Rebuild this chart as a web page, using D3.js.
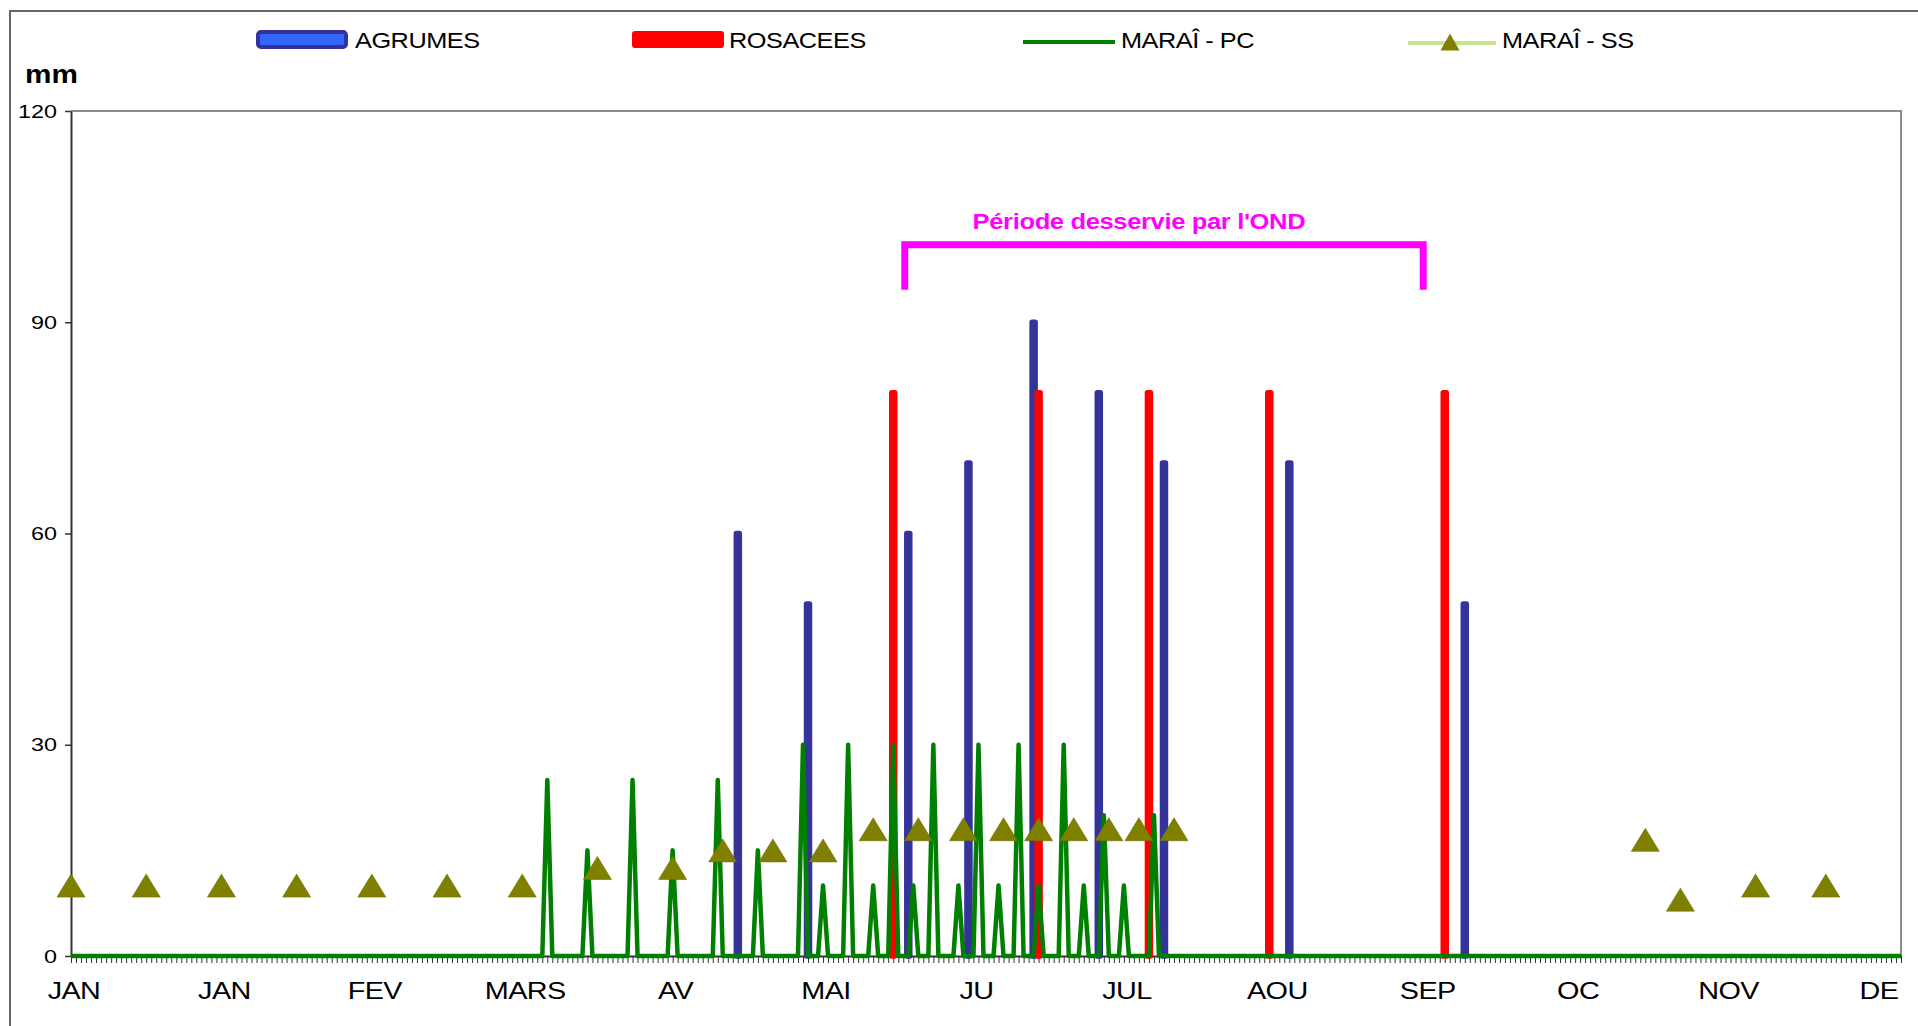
<!DOCTYPE html>
<html>
<head>
<meta charset="utf-8">
<script src="https://cdn.jsdelivr.net/npm/d3@7"></script>
<style>
body { margin: 0; background: #fff; }
svg { display: block; font-family: "Liberation Sans", Arial, sans-serif; }
</style>
</head>
<body>
<div id="chart"></div>
<script>
// DATA ------------------------------------------------------------
// x axis = day of the year (0..365), labels every 30 days
var monthLabels = ["JAN", "JAN", "FEV", "MARS", "AV", "MAI", "JU", "JUL", "AOU", "SEP", "OC", "NOV", "DE"];
var monthLabelDays = [0, 30, 60, 90, 120, 150, 180, 210, 240, 270, 300, 330, 360];
var yTicks = [0, 30, 60, 90, 120];

var agrumesDays = [133, 147, 167, 179, 192, 205, 218, 243, 278];
var agrumesValues = [60, 50, 60, 70, 90, 80, 70, 70, 50];

var rosaceesDays = [164, 193, 215, 239, 274];
var rosaceesValues = [80, 80, 80, 80, 80];

// MARAÎ - PC : zero every day except these
var pcDays = [95, 103, 112, 120, 129, 137, 146, 150, 155, 160, 164, 168, 172, 177, 181, 185, 189, 193, 198, 202, 206, 210, 216];
var pcValues = [25, 15, 25, 15, 25, 15, 30, 10, 30, 10, 30, 10, 30, 10, 30, 10, 30, 10, 30, 10, 20, 10, 20];

// MARAÎ - SS : markers only
var ssDays = [0, 15, 30, 45, 60, 75, 90, 105, 120, 130, 140, 150, 160, 169, 178, 186, 193, 200, 207, 213, 220, 314, 321, 336, 350];
var ssValues = [10, 10, 10, 10, 10, 10, 10, 12.5, 12.5, 15, 15, 15, 18, 18, 18, 18, 18, 18, 18, 18, 18, 16.5, 8, 10, 10];

var legendNames = ["AGRUMES", "ROSACEES", "MARAÎ - PC", "MARAÎ - SS"];
var ondLabel = "Période desservie par l'OND";
var ondStartDay = 166, ondEndDay = 270;

// SIZES / COLORS --------------------------------------------------
var width = 1918, height = 1026;
var plot = {left: 71, right: 1901, top: 111, bottom: 956};
var colors = {
	'agrumesFill': '#3366ff',
	'agrumesStroke': '#333399',
	'rosacees': '#ff0000',
	'pc': '#008000',
	'ssLine': '#c8e68c',
	'ss': '#808000',
	'ond': '#ff00ff'
};

var svg = d3.select("#chart")
	.append("svg")
	.attr("width", width)
	.attr("height", height);

var days = d3.range(366);
var x = d3.scalePoint().domain(days).range([plot.left, plot.right]);
var y = d3.scaleLinear().domain([0, 120]).range([plot.bottom, plot.top]);

// text that is a bit wider than plain Arial, like the original
function wideText(parent, tx, ty, str, sx) {
	return parent.append("g")
		.attr("transform", "translate(" + tx + "," + ty + ") scale(" + sx + ",1)")
		.append("text")
		.text(str);
}

// FRAMES ----------------------------------------------------------
svg.append("rect")
	.attr("x", 10).attr("y", 11)
	.attr("width", 1940).attr("height", 1040)
	.attr("fill", "none")
	.attr("stroke", "#666")
	.attr("stroke-width", 2);

svg.append("path")
	.attr("d", "M" + plot.left + "," + plot.top + "H" + plot.right + "V" + plot.bottom)
	.attr("fill", "none")
	.attr("stroke", "#8c8c8c")
	.attr("stroke-width", 2);

// AXES ------------------------------------------------------------
var yAxis = svg.append("g")
	.attr("transform", "translate(" + plot.left + ",0)")
	.call(d3.axisLeft(y).tickValues(yTicks).tickSize(6).tickSizeOuter(0).tickFormat(""));
yAxis.select(".domain").attr("stroke", "#333").attr("stroke-width", 2);
yAxis.selectAll(".tick line").attr("stroke", "#333").attr("stroke-width", 1.5);

yTicks.forEach(function(v) {
	wideText(svg, plot.left - 14, y(v) + 6.5, v, 1.3)
		.attr("text-anchor", "end")
		.attr("font-size", 18)
		.attr("fill", "#000");
});

var xAxis = svg.append("g")
	.attr("transform", "translate(0," + plot.bottom + ")")
	.call(d3.axisBottom(x).tickValues(days).tickSize(7).tickSizeOuter(0).tickFormat(""));
xAxis.select(".domain").attr("stroke", "#333").attr("stroke-width", 2);
xAxis.selectAll(".tick line").attr("stroke", "#333").attr("stroke-width", 1);

monthLabels.forEach(function(m, i) {
	wideText(svg, x(monthLabelDays[i]) + 3, 999, m, 1.2)
		.attr("text-anchor", "middle")
		.attr("font-size", 24)
		.attr("letter-spacing", -0.5)
		.attr("fill", "#000");
});

wideText(svg, 25, 83, "mm", 1.19)
	.attr("font-size", 25)
	.attr("font-weight", "bold")
	.attr("fill", "#000");

// BARS ------------------------------------------------------------
var agrumes = agrumesDays.map(function(d, i) { return {day: d, value: agrumesValues[i]}; });
var rosacees = rosaceesDays.map(function(d, i) { return {day: d, value: rosaceesValues[i]}; });

svg.selectAll(".agrumes")
	.data(agrumes)
	.enter()
	.append("rect")
	.attr("class", "agrumes")
	.attr("x", function(d) { return x(d.day) - 1.5; })
	.attr("y", function(d) { return y(d.value); })
	.attr("width", 3)
	.attr("height", function(d) { return plot.bottom - y(d.value); })
	.attr("fill", colors.agrumesFill)
	.attr("stroke", colors.agrumesStroke)
	.attr("stroke-width", 5.5)
	.attr("stroke-linejoin", "round");

svg.selectAll(".rosacees")
	.data(rosacees)
	.enter()
	.append("rect")
	.attr("class", "rosacees")
	.attr("x", function(d) { return x(d.day) - 1.5; })
	.attr("y", function(d) { return y(d.value); })
	.attr("width", 3)
	.attr("height", function(d) { return plot.bottom - y(d.value); })
	.attr("fill", colors.rosacees)
	.attr("stroke", colors.rosacees)
	.attr("stroke-width", 5.5)
	.attr("stroke-linejoin", "round");

// MARAÎ - PC line -------------------------------------------------
var pcSeries = days.map(function(d) {
	var j = pcDays.indexOf(d);
	return {day: d, value: j < 0 ? 0 : pcValues[j]};
});

var line = d3.line()
	.x(function(d) { return x(d.day); })
	.y(function(d) { return y(d.value); });

svg.append("path")
	.datum(pcSeries)
	.attr("d", line)
	.attr("fill", "none")
	.attr("stroke", colors.pc)
	.attr("stroke-width", 4.5)
	.attr("stroke-linejoin", "round");

// MARAÎ - SS markers ----------------------------------------------
function triangle(w, h) {
	return "M0," + (-h / 2) + "L" + (w / 2) + "," + (h / 2) + "L" + (-w / 2) + "," + (h / 2) + "Z";
}

svg.selectAll(".ss")
	.data(ssDays.map(function(d, i) { return {day: d, value: ssValues[i]}; }))
	.enter()
	.append("path")
	.attr("class", "ss")
	.attr("d", triangle(28, 23))
	.attr("transform", function(d) { return "translate(" + x(d.day) + "," + y(d.value) + ")"; })
	.attr("fill", colors.ss)
	.attr("stroke", "#6e6e00")
	.attr("stroke-width", 0.6);

// OND period bracket ----------------------------------------------
svg.append("path")
	.attr("d", "M" + (x(ondStartDay) + 1.5) + "," + y(94.6) + "V" + y(101) + "H" + (x(ondEndDay) - 1.5) + "V" + y(94.6))
	.attr("fill", "none")
	.attr("stroke", colors.ond)
	.attr("stroke-width", 7);

wideText(svg, x(213), y(103.2), ondLabel, 1.16)
	.attr("text-anchor", "middle")
	.attr("font-size", 22)
	.attr("font-weight", "bold")
	.attr("letter-spacing", -0.3)
	.attr("fill", colors.ond);

// LEGEND ----------------------------------------------------------
var legend = svg.append("g");

legend.append("rect")
	.attr("x", 258).attr("y", 32).attr("width", 88).attr("height", 15).attr("rx", 3)
	.attr("fill", colors.agrumesFill)
	.attr("stroke", colors.agrumesStroke)
	.attr("stroke-width", 4);
wideText(legend, 355, 48, legendNames[0], 1.15).attr("font-size", 22).attr("letter-spacing", -0.4);

legend.append("rect")
	.attr("x", 632).attr("y", 31).attr("width", 92).attr("height", 17).attr("rx", 3)
	.attr("fill", colors.rosacees);
wideText(legend, 729, 48, legendNames[1], 1.15).attr("font-size", 22).attr("letter-spacing", -0.4);

legend.append("line")
	.attr("x1", 1023).attr("x2", 1115).attr("y1", 42).attr("y2", 42)
	.attr("stroke", colors.pc)
	.attr("stroke-width", 4);
wideText(legend, 1121, 48, legendNames[2], 1.15).attr("font-size", 22).attr("letter-spacing", -0.4);

legend.append("line")
	.attr("x1", 1408).attr("x2", 1496).attr("y1", 43).attr("y2", 43)
	.attr("stroke", colors.ssLine)
	.attr("stroke-width", 4);
legend.append("path")
	.attr("d", triangle(19, 17))
	.attr("transform", "translate(1450,42)")
	.attr("fill", colors.ss);
wideText(legend, 1502, 48, legendNames[3], 1.15).attr("font-size", 22).attr("letter-spacing", -0.4);
</script>
</body>
</html>
